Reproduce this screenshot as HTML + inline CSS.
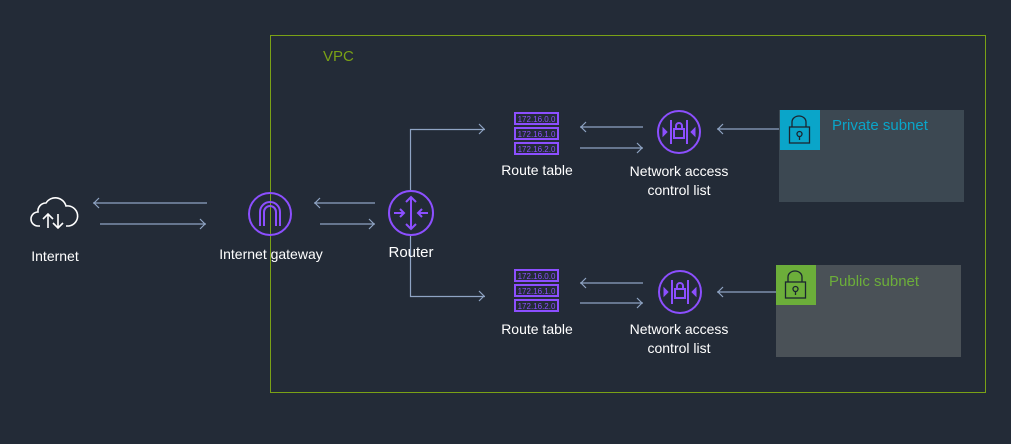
<!DOCTYPE html>
<html><head><meta charset="utf-8"><style>
html,body{margin:0;padding:0;background:#232b37;}
svg{display:block;font-family:"Liberation Sans",sans-serif;}
</style></head><body>
<svg width="1011" height="444" viewBox="0 0 1011 444" xmlns="http://www.w3.org/2000/svg">
<rect width="1011" height="444" fill="#232b37"/>
<defs>
<g id="rt" fill="none" stroke="#8c4fff" stroke-width="2">
<rect x="0" y="0" width="43" height="11"/>
<rect x="0" y="15" width="43" height="11"/>
<rect x="0" y="30" width="43" height="11"/>
</g>
<g id="nacl" fill="none" stroke="#8c4fff" stroke-width="2">
<circle cx="0" cy="0" r="21"/>
<line x1="-8" y1="-12" x2="-8" y2="12"/><line x1="8" y1="-12" x2="8" y2="12"/>
<rect x="-5" y="-3" width="10" height="9"/><path d="M-3,-3 v-3 a3,3 0 0 1 6,0 v3"/>
<path d="M-16,-4 l4,4 l-4,4z M16,-4 l-4,4 l4,4z" fill="#8c4fff" stroke-width="1"/>
</g>
</defs>
<rect x="270.5" y="35.5" width="715" height="357" fill="none" stroke="#7aa116" stroke-width="1"/>
<text x="323" y="61" fill="#7aa116" font-size="15">VPC</text>
<rect x="779" y="110" width="185" height="92" fill="#3c4852"/>
<rect x="780" y="110" width="40" height="40" fill="#0aa5c9"/>
<g fill="none" stroke="#1b2530" stroke-width="1.3"><rect x="789.5" y="127" width="20" height="16"/><path d="M792,127 v-5 a7,6 0 0 1 14,0 v5"/><circle cx="799.5" cy="134" r="2.5"/><line x1="799.5" y1="136.5" x2="799.5" y2="140"/></g>
<text x="832" y="130" fill="#0aa5c9" font-size="15">Private subnet</text>
<rect x="776" y="265" width="185" height="92" fill="#4a5157"/>
<rect x="776" y="265" width="40" height="40" fill="#6cae3a"/>
<g fill="none" stroke="#1b2530" stroke-width="1.3"><rect x="785.5" y="282" width="20" height="16"/><path d="M788,282 v-5 a7,6 0 0 1 14,0 v5"/><circle cx="795.5" cy="289" r="2.5"/><line x1="795.5" y1="291.5" x2="795.5" y2="295"/></g>
<text x="829" y="286" fill="#6cae3a" font-size="15">Public subnet</text>
<g stroke="#8fa4c4" stroke-width="1.2" fill="none">
<line x1="93" y1="203" x2="207" y2="203"/><path d="M99,198 l-5,5 l5,5"/>
<line x1="100" y1="224" x2="206" y2="224"/><path d="M200,219 l5,5 l-5,5"/>
<line x1="314" y1="203" x2="375" y2="203"/><path d="M320,198 l-5,5 l5,5"/>
<line x1="320" y1="224" x2="375" y2="224"/><path d="M369,219 l5,5 l-5,5"/>
<path d="M410.5,190 V129.5 H485"/><path d="M479,124 l5,5 l-5,5"/>
<path d="M410.5,236 V296.5 H485"/><path d="M479,291 l5,5 l-5,5"/>
<line x1="580" y1="127" x2="643" y2="127"/><path d="M586,122 l-5,5 l5,5"/>
<line x1="580" y1="148" x2="643" y2="148"/><path d="M637,143 l5,5 l-5,5"/>
<line x1="580" y1="283" x2="643" y2="283"/><path d="M586,278 l-5,5 l5,5"/>
<line x1="580" y1="303" x2="643" y2="303"/><path d="M637,298 l5,5 l-5,5"/>
<line x1="717" y1="129" x2="779" y2="129"/><path d="M723,124 l-5,5 l5,5"/>
<line x1="717" y1="292" x2="776" y2="292"/><path d="M723,287 l-5,5 l5,5"/>
</g>
<g fill="none" stroke="#fff" stroke-width="1.6">
<path d="M40,226 h-2 a7,7 0 0 1 0,-14 a8,8 0 0 1 8,-9 a11,11 0 0 1 20,3 a8,8 0 0 1 3,20 h-3"/>
<path d="M48,228 v-14 M43,219 l5,-5 l5,5 M58,214 v14 M53,223 l5,5 l5,-5"/>
</g>
<text x="55" y="261" fill="#fff" font-size="14" text-anchor="middle">Internet</text>
<g fill="none" stroke="#8c4fff" stroke-width="2">
<circle cx="270" cy="214" r="21"/>
<path d="M260,226 v-14 a10,10 0 0 1 20,0 v14 M264,226 v-14 a6,6 0 0 1 12,0 v14"/>
</g>
<text x="271" y="259" fill="#fff" font-size="14" text-anchor="middle">Internet gateway</text>
<g fill="none" stroke="#8c4fff" stroke-width="2">
<circle cx="411" cy="213" r="22"/>
<path d="M411,197 v32 M406,202 l5,-5 l5,5 M406,224 l5,5 l5,-5 M394,213 h10 M400,209 l4,4 l-4,4 M428,213 h-10 M422,209 l-4,4 l4,4"/>
</g>
<text x="411" y="257" fill="#fff" font-size="15" text-anchor="middle">Router</text>
<use href="#rt" x="515" y="113"/>
<g fill="#8c4fff" font-size="8" text-anchor="middle"><text x="536.5" y="122">172.16.0.0</text><text x="536.5" y="137">172.16.1.0</text><text x="536.5" y="152">172.16.2.0</text></g>
<text x="537" y="175" fill="#fff" font-size="14" text-anchor="middle">Route table</text>
<use href="#rt" x="515" y="270"/>
<g fill="#8c4fff" font-size="8" text-anchor="middle"><text x="536.5" y="279">172.16.0.0</text><text x="536.5" y="294">172.16.1.0</text><text x="536.5" y="309">172.16.2.0</text></g>
<text x="537" y="334" fill="#fff" font-size="14" text-anchor="middle">Route table</text>
<use href="#nacl" x="679" y="132"/>
<text x="679" y="176" fill="#fff" font-size="14" text-anchor="middle">Network access</text>
<text x="679" y="195" fill="#fff" font-size="14" text-anchor="middle">control list</text>
<use href="#nacl" x="680" y="292"/>
<text x="679" y="334" fill="#fff" font-size="14" text-anchor="middle">Network access</text>
<text x="679" y="353" fill="#fff" font-size="14" text-anchor="middle">control list</text>
</svg>
</body></html>
